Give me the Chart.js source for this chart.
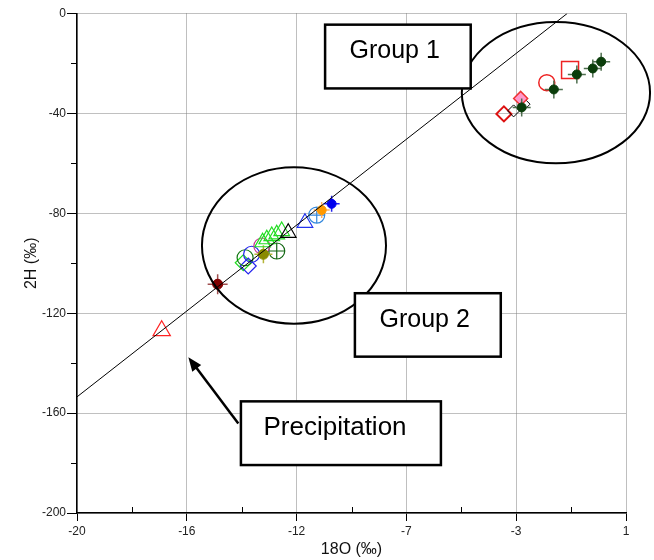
<!DOCTYPE html>
<html>
<head>
<meta charset="utf-8">
<script src="https://cdn.jsdelivr.net/npm/chart.js@4"></script>
<style>
  html, body { margin: 0; padding: 0; background: #fff; }
  #wrap { width: 654px; height: 560px; }
</style>
</head>
<body>
<div id="wrap"><canvas id="isoChart"></canvas></div>
<script>
// axis ticks
const xMajorTicks = [-20, -15.8, -11.6, -7.4, -3.2, 1];
const xTickLabels = ['-20', '-16', '-12', '-7', '-3', '1'];
const yMajorTicks = [0, -40, -80, -120, -160, -200];
const yTickLabels = ['0', '-40', '-80', '-120', '-160', '-200'];

// meteoric water line (18O, 2H)
const waterLine = [[-20, -153.5], [-1.25, 0]];

// group 1 samples
const g1GreenDots = [[-2.99, -37.6], [-1.76, -30.4], [-0.88, -24.4], [-0.27, -22.0], [0.05, -19.3]];
const g1RedDiamond = [[-3.67, -40.2]];
const g1BlackDiamonds = [[-3.3, -39.0], [-2.9, -36.3]];
const g1PinkDiamond = [[-3.03, -34.0]];
const g1RedCircle = [[-2.03, -27.7]];
const g1RedSquare = [[-1.14, -22.6]];

// group 2 samples
const g2BlueDot = [[-10.26, -76.2]];
const g2OrangeDot = [[-10.64, -78.7]];
const g2SteelCircle = [[-10.83, -80.7]];
const g2BlueTriangle = [[-11.28, -83.8]];
const g2BlackTriangle = [[-11.92, -87.8]];
const g2GreenTriangles = [[-12.17, -87.1], [-12.36, -88.4], [-12.55, -89.1], [-12.74, -90.4], [-12.9, -91.6]];
const g2MagentaCircle = [[-12.93, -93.1]];
const g2DarkGreenCrossCircle = [[-12.36, -95.1]];
const g2OliveDot = [[-12.87, -96.4]];
const g2BlueCircle = [[-13.32, -96.4]];
const g2DarkGreenCircle = [[-13.57, -97.8]];
const g2BlueDiamond = [[-13.45, -101.1]];
const g2GreenDiamond = [[-13.64, -99.8]];

// precipitation samples
const darkRedDot = [[-14.62, -108.4]];
const redTriangle = [[-16.76, -127.0]];

// annotations (in data units)
const groupEllipses = [
  { cx: -1.68, cy: -31.7, rx: 3.6, ry: 28.3 },
  { cx: -11.7, cy: -92.9, rx: 3.52, ry: 31.3 }
];
const labelBoxes = [
  { text: 'Group 1', x1: -10.51, x2: -4.94, y1: -4.47, y2: -30.0, tx: -7.85, ty: -15.0, size: 25 },
  { text: 'Group 2', x1: -9.37, x2: -3.79, y1: -112.0, y2: -137.4, tx: -6.7, ty: -122.6, size: 25 },
  { text: 'Precipitation', x1: -13.73, x2: -6.08, y1: -155.3, y2: -180.8, tx: -10.13, ty: -165.9, size: 26 }
];
const arrow = { from: [-13.83, -164.2], to: [-15.74, -137.6] };

const pts = (arr) => arr.map(([x, y]) => ({ x, y }));

const marker = (data, style, radius, border, fill, width = 1) => ({
  data: pts(data),
  pointStyle: style,
  pointRadius: radius,
  pointHoverRadius: radius,
  borderColor: border,
  backgroundColor: fill || 'rgba(0,0,0,0)',
  pointBorderWidth: width,
  borderWidth: width,
  showLine: false
});

const datasets = [
  {
    data: pts(waterLine),
    showLine: true,
    borderColor: '#000',
    borderWidth: 1,
    pointRadius: 0,
    fill: false
  },
  // group 1
  marker(g1GreenDots, 'circle', 4.5, '#0b3d0b', '#0b3d0b'),
  marker(g1GreenDots, 'cross', 9, '#4f6f4f', null, 1.5),
  marker(g1PinkDiamond, 'rectRot', 7, '#ee3333', '#ff99cc', 1.5),
  marker(g1BlackDiamonds, 'rectRot', 6, '#000', null, 1),
  marker(g1RedDiamond, 'rectRot', 7.5, '#dd1111', null, 2),
  marker(g1RedCircle, 'circle', 8, '#ee2222', null, 1.5),
  marker(g1RedSquare, 'rect', 12, '#ee2222', null, 1.5),
  // group 2
  marker(g2BlueDot, 'circle', 4.5, '#0000ee', '#0000ee'),
  marker(g2BlueDot, 'cross', 8, '#2222ee', null, 1.5),
  marker(g2OrangeDot, 'circle', 4.5, '#ff9900', '#ff9900'),
  marker(g2OrangeDot, 'cross', 8, '#ffb060', null, 1.5),
  marker(g2SteelCircle, 'circle', 8, '#3388dd', null, 1.2),
  marker(g2SteelCircle, 'cross', 8, '#3388dd', null, 1.2),
  marker(g2BlueTriangle, 'triangle', 9, '#2233ee', null, 1.2),
  marker(g2BlackTriangle, 'triangle', 9, '#000', null, 1.2),
  marker(g2GreenTriangles, 'triangle', 9, '#22dd22', null, 1.2),
  marker(g2OliveDot, 'circle', 5, '#8a8a00', '#8a8a00'),
  marker(g2OliveDot, 'cross', 9, '#b5b53a', null, 1.5),
  marker(g2MagentaCircle, 'circle', 8, '#cc3399', null, 1.2),
  marker(g2DarkGreenCrossCircle, 'circle', 8, '#116611', null, 1.2),
  marker(g2DarkGreenCrossCircle, 'cross', 8, '#116611', null, 1.2),
  marker(g2BlueCircle, 'circle', 8, '#2222ee', null, 1.2),
  marker(g2DarkGreenCircle, 'circle', 8, '#117711', null, 1.2),
  marker(g2BlueDiamond, 'rectRot', 8, '#2222ee', null, 1.2),
  marker(g2GreenDiamond, 'rectRot', 8, '#22dd22', null, 1.2),
  // precipitation
  marker(darkRedDot, 'circle', 5, '#800000', '#800000'),
  marker(darkRedDot, 'cross', 10, '#a05050', null, 1.5),
  marker(redTriangle, 'triangle', 10, '#ff2222', null, 1.2)
];

const minorBetween = (majors) => {
  const out = [];
  for (let i = 0; i < majors.length - 1; i++) out.push((majors[i] + majors[i + 1]) / 2);
  return out;
};

const annotationPlugin = {
  id: 'groupAnnotations',
  afterDatasetsDraw(chart) {
    const { ctx, scales: { x, y }, chartArea } = chart;
    ctx.save();
    ctx.strokeStyle = '#000';

    // minor ticks: inward on x, outward on y
    ctx.lineWidth = 1;
    ctx.beginPath();
    minorBetween(xMajorTicks).forEach((v) => {
      const px = Math.round(x.getPixelForValue(v)) + 0.5;
      ctx.moveTo(px, chartArea.bottom);
      ctx.lineTo(px, chartArea.bottom - 6);
    });
    minorBetween(yMajorTicks).forEach((v) => {
      const py = Math.round(y.getPixelForValue(v)) + 0.5;
      ctx.moveTo(chartArea.left, py);
      ctx.lineTo(chartArea.left - 6, py);
    });
    ctx.stroke();

    groupEllipses.forEach((e) => {
      const cx = x.getPixelForValue(e.cx);
      const cy = y.getPixelForValue(e.cy);
      const rx = Math.abs(x.getPixelForValue(e.cx + e.rx) - cx);
      const ry = Math.abs(y.getPixelForValue(e.cy + e.ry) - cy);
      ctx.beginPath();
      ctx.lineWidth = 2;
      ctx.ellipse(cx, cy, rx, ry, 0, 0, Math.PI * 2);
      ctx.stroke();
    });

    // arrow
    const ax1 = x.getPixelForValue(arrow.from[0]);
    const ay1 = y.getPixelForValue(arrow.from[1]);
    const ax2 = x.getPixelForValue(arrow.to[0]);
    const ay2 = y.getPixelForValue(arrow.to[1]);
    const ang = Math.atan2(ay2 - ay1, ax2 - ax1);
    ctx.lineWidth = 2.5;
    ctx.beginPath();
    ctx.moveTo(ax1, ay1);
    ctx.lineTo(ax2 - Math.cos(ang) * 8, ay2 - Math.sin(ang) * 8);
    ctx.stroke();
    ctx.beginPath();
    ctx.fillStyle = '#000';
    ctx.moveTo(ax2, ay2);
    ctx.lineTo(ax2 - 15 * Math.cos(ang - 0.38), ay2 - 15 * Math.sin(ang - 0.38));
    ctx.lineTo(ax2 - 15 * Math.cos(ang + 0.38), ay2 - 15 * Math.sin(ang + 0.38));
    ctx.closePath();
    ctx.fill();

    labelBoxes.forEach((b) => {
      const left = x.getPixelForValue(b.x1);
      const right = x.getPixelForValue(b.x2);
      const top = y.getPixelForValue(b.y1);
      const bottom = y.getPixelForValue(b.y2);
      ctx.fillStyle = '#fff';
      ctx.fillRect(left, top, right - left, bottom - top);
      ctx.lineWidth = 2.5;
      ctx.strokeRect(left, top, right - left, bottom - top);
      ctx.fillStyle = '#000';
      ctx.font = b.size + 'px "Liberation Sans", Arial, sans-serif';
      ctx.textAlign = 'center';
      ctx.textBaseline = 'middle';
      ctx.fillText(b.text, x.getPixelForValue(b.tx), y.getPixelForValue(b.ty));
    });
    ctx.restore();
  }
};

const gridColor = (ctx) => (ctx.tick && ctx.tick.major ? '#808080' : 'rgba(0,0,0,0)');
const tickColor = (ctx) => (ctx.tick && ctx.tick.major ? '#000' : 'rgba(0,0,0,0)');

new Chart(document.getElementById('isoChart'), {
  type: 'scatter',
  data: { datasets },
  plugins: [annotationPlugin],
  options: {
    responsive: true,
    maintainAspectRatio: false,
    animation: false,
    events: [],
    layout: { padding: { top: 11, right: 28, left: 0, bottom: 0 } },
    plugins: { legend: { display: false }, tooltip: { enabled: false } },
    scales: {
      x: {
        type: 'linear',
        min: -20,
        max: 1,
        afterBuildTicks: (s) => {
          const all = xMajorTicks.map((v) => ({ value: v, major: true }))
            .concat(minorBetween(xMajorTicks).map((v) => ({ value: v, major: false })));
          s.ticks = all.sort((a, b) => a.value - b.value);
        },
        afterFit: (s) => { s.height = 47; },
        ticks: {
          autoSkip: false,
          maxRotation: 0,
          padding: 3,
          color: '#222',
          font: { family: '"Liberation Sans", Arial, sans-serif', size: 12 },
          callback: (v) => {
            const i = xMajorTicks.findIndex((m) => Math.abs(m - v) < 1e-6);
            return i >= 0 ? xTickLabels[i] : '';
          }
        },
        grid: { color: gridColor, tickColor, tickLength: 8, lineWidth: 1 },
        border: { display: true, color: '#000', width: 1.5, dash: [1, 1] },
        title: {
          display: true,
          text: '18O (‰)',
          color: '#111',
          padding: { top: 0, bottom: 1 },
          font: { family: '"Liberation Sans", Arial, sans-serif', size: 16 }
        }
      },
      y: {
        type: 'linear',
        min: -200,
        max: 0,
        afterBuildTicks: (s) => {
          const all = yMajorTicks.map((v) => ({ value: v, major: true }))
            .concat(minorBetween(yMajorTicks).map((v) => ({ value: v, major: false })));
          s.ticks = all.sort((a, b) => a.value - b.value);
        },
        afterFit: (s) => { s.width = 77; },
        ticks: {
          autoSkip: false,
          padding: 1,
          color: '#222',
          font: { family: '"Liberation Sans", Arial, sans-serif', size: 12 },
          callback: (v) => {
            const i = yMajorTicks.findIndex((m) => Math.abs(m - v) < 1e-6);
            return i >= 0 ? yTickLabels[i] : '';
          }
        },
        grid: { color: gridColor, tickColor, tickLength: 10, lineWidth: 1 },
        border: { display: true, color: '#000', width: 1.5, dash: [1, 1] },
        title: {
          display: true,
          text: '2H (‰)',
          color: '#111',
          padding: { top: 22, bottom: 0 },
          font: { family: '"Liberation Sans", Arial, sans-serif', size: 16 }
        }
      }
    }
  }
});
</script>
</body>
</html>
